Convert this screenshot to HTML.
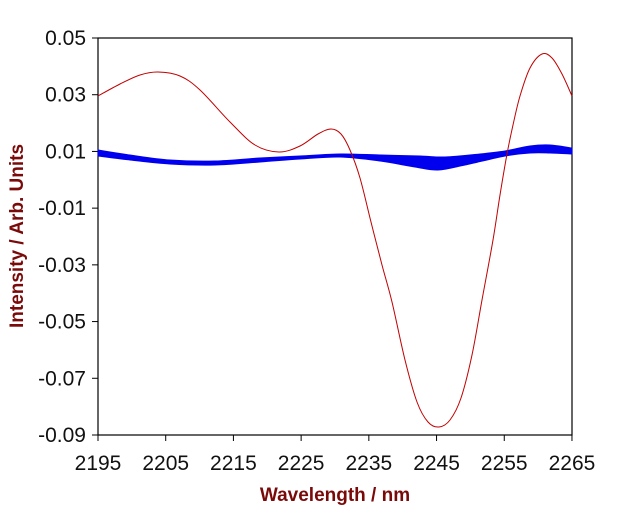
<!DOCTYPE html>
<html><head><meta charset="utf-8"><style>
body{margin:0;background:#fff;width:632px;height:506px;overflow:hidden}
text{font-family:"Liberation Sans",Arial,sans-serif}
</style></head><body>
<svg id="s" width="632" height="506" xmlns="http://www.w3.org/2000/svg">
<rect x="98" y="38" width="474" height="397" fill="none" stroke="#000" stroke-width="1.2"/>
<g id="ticks" stroke="#000" stroke-width="1"></g>
<g id="lbl" font-size="21" fill="#111"></g>
<path id="band" fill="#0000ee" stroke="#0000ee" stroke-width="1"/>
<path id="red" fill="none" stroke="#c00000" stroke-width="1"/>
<text x="335" y="501" text-anchor="middle" font-size="19" font-weight="bold" fill="#7a0a0a">Wavelength / nm</text>
<text transform="translate(23,236) rotate(-90)" text-anchor="middle" font-size="19" font-weight="bold" fill="#7a0a0a">Intensity / Arb. Units</text>
</svg>
<script>
(function(){
function cr(p){var d="M"+p[0][0]+","+p[0][1];for(var i=0;i<p.length-1;i++){var a=p[i-1]||p[i],b=p[i],c=p[i+1],e=p[i+2]||c;
d+=" C"+(b[0]+(c[0]-a[0])/6)+","+(b[1]+(c[1]-a[1])/6)+" "+(c[0]-(e[0]-b[0])/6)+","+(c[1]-(e[1]-b[1])/6)+" "+c[0]+","+c[1];}return d;}
var redP=[[98,96],[120,84],[140,75],[158,72],[180,76],[200,90],[230,122],[255,145],[279,152],[300,146],[318,134],[331,129],[341,134],[350,150],[360,178],[371,222],[382,265],[392,302],[405,360],[417,402],[428,422],[439,427],[450,420],[461,398],[472,355],[482,300],[493,240],[500,195],[507,154],[513,125],[520,96],[530,68],[542,54],[552,58],[562,74],[572,96]];
document.getElementById("red").setAttribute("d",cr(redP));
var topE=[[98,150],[130,155],[170,160],[215,161],[260,158],[300,156],[340,154],[380,155],[420,156],[445,157],[480,154],[505,151],[530,146],[550,145],[572,148]];
var botE=[[98,156],[130,160],[170,164],[215,165],[260,162],[300,159],[340,157],[380,161],[415,167],[438,170],[465,165],[505,156],[530,153],[550,153],[572,154]];
var rb=botE.slice().reverse();
var d=cr(topE)+" L"+rb[0][0]+","+rb[0][1]+cr(rb).replace(/^M[^ ]+/,"")+" Z";
document.getElementById("band").setAttribute("d",d);
var t=document.getElementById("ticks"),l=document.getElementById("lbl");
var h="",lh="";
for(var i=0;i<8;i++){var y=38+i*56.714;h+='<line x1="92" y1="'+y+'" x2="98" y2="'+y+'"/>';
var v=(0.05-0.02*i).toFixed(2);lh+='<text x="86" y="'+(y+7)+'" text-anchor="end">'+v+'</text>';}
for(var j=0;j<8;j++){var x=98+j*67.71;h+='<line x1="'+x+'" y1="435" x2="'+x+'" y2="441"/>';
lh+='<text x="'+x+'" y="470" text-anchor="middle">'+(2195+10*j)+'</text>';}
t.innerHTML=h;l.innerHTML=lh;
})();
</script>
</body></html>
